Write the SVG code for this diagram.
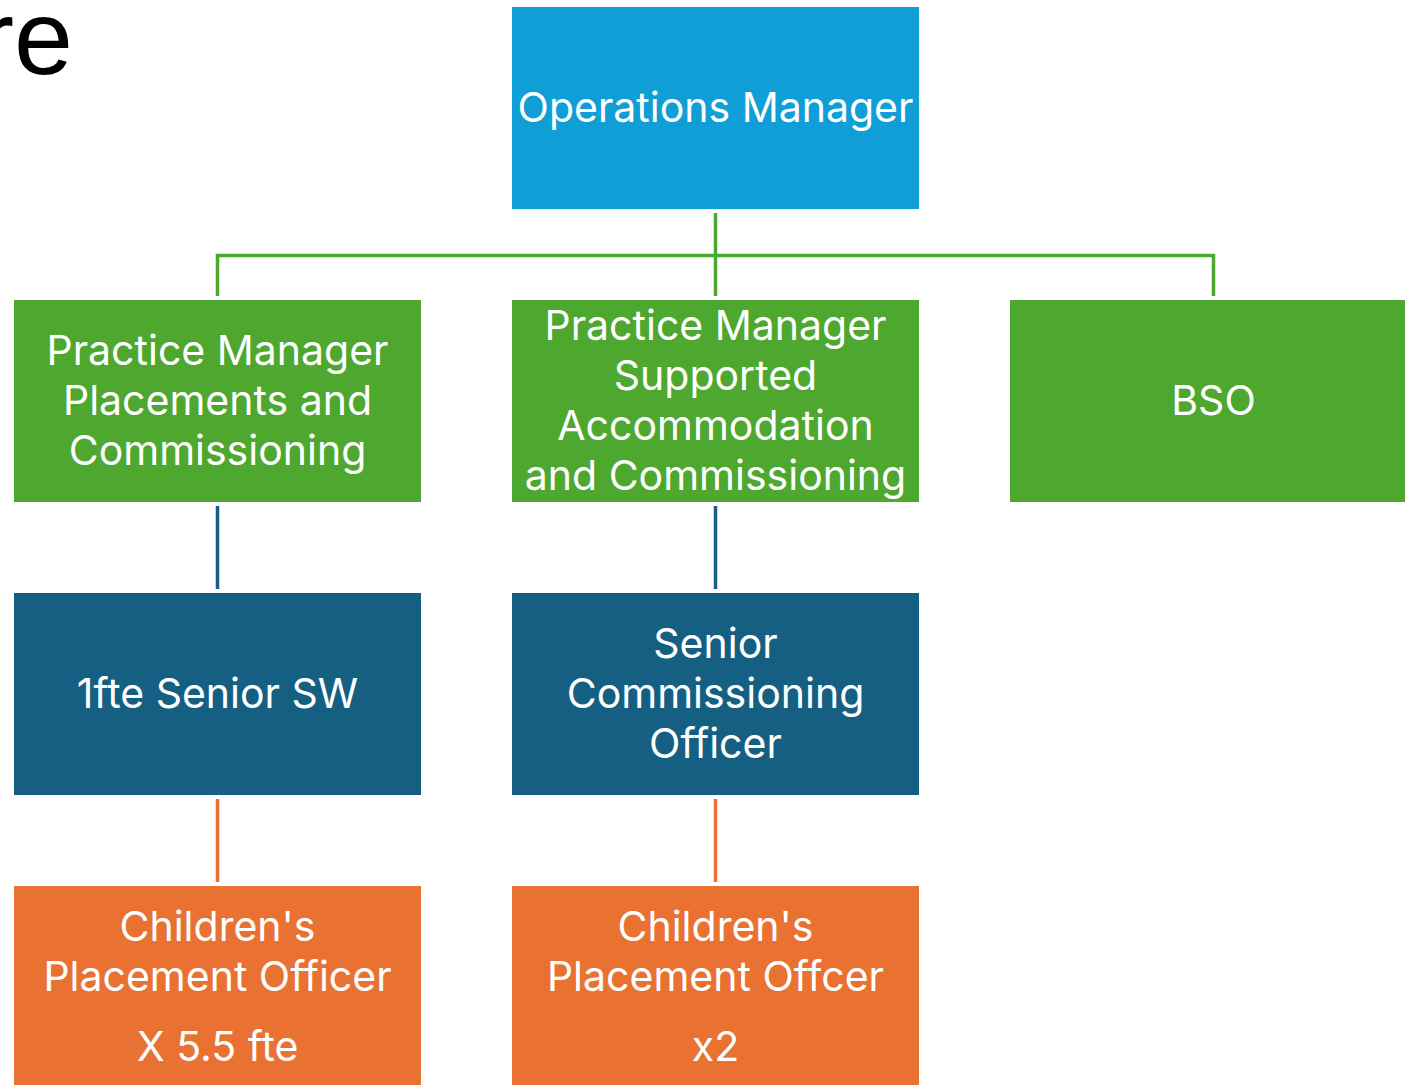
<svg xmlns="http://www.w3.org/2000/svg" width="1405" height="1085" viewBox="0 0 1405 1085">
<style>
.t{font-family:Inter,"Open Sans","Liberation Sans",sans-serif;font-size:41px;fill:#fff;text-anchor:middle}
.g{fill:#4EA72E}
.b{fill:#156082}
.o{fill:#E97132}
.cg{stroke:#4EA72E;stroke-width:3.5;fill:none}
.cb{stroke:#156082;stroke-width:3.5;fill:none}
.co{stroke:#E97132;stroke-width:3.5;fill:none}
</style>
<rect width="1405" height="1085" fill="#fff"/>
<text x="73" y="74" font-family="Liberation Sans, Arial, sans-serif" font-size="106" text-anchor="end" fill="#000">re</text>
<g id="connectors">
<path class="cg" d="M217.5 296V255.5H1213.5V296M715.5 213V296"/>
<path class="cb" d="M217.5 506V589M715.5 506V589"/>
<path class="co" d="M217.5 799V882M715.5 799V882"/>
</g>
<g id="ops"><rect x="512" y="7" width="407" height="202" fill="#0F9ED5"/><text class="t" x="715.5" y="122">Operations Manager</text></g>
<g id="pm1"><rect class="g" x="14" y="300" width="407" height="202"/><text class="t" x="217.5"><tspan x="217.5" y="365">Practice Manager</tspan><tspan x="217.5" y="415">Placements and</tspan><tspan x="217.5" y="465">Commissioning</tspan></text></g>
<g id="pm2"><rect class="g" x="512" y="300" width="407" height="202"/><text class="t"><tspan x="715.5" y="340">Practice Manager</tspan><tspan x="715.5" y="390">Supported</tspan><tspan x="715.5" y="440">Accommodation</tspan><tspan x="715.5" y="490">and Commissioning</tspan></text></g>
<g id="bso"><rect class="g" x="1010" y="300" width="395" height="202"/><text class="t" x="1213.5" y="415">BSO</text></g>
<g id="ssw"><rect class="b" x="14" y="593" width="407" height="202"/><text class="t" x="217.5" y="708">1fte Senior SW</text></g>
<g id="sco"><rect class="b" x="512" y="593" width="407" height="202"/><text class="t"><tspan x="715.5" y="658">Senior</tspan><tspan x="715.5" y="708">Commissioning</tspan><tspan x="715.5" y="758">Officer</tspan></text></g>
<g id="cpo1"><rect class="o" x="14" y="886" width="407" height="199"/><text class="t"><tspan x="217.5" y="941">Children's</tspan><tspan x="217.5" y="991">Placement Officer</tspan><tspan x="217.5" y="1061">X 5.5 fte</tspan></text></g>
<g id="cpo2"><rect class="o" x="512" y="886" width="407" height="199"/><text class="t"><tspan x="715.5" y="941">Children's</tspan><tspan x="715.5" y="991">Placement Offcer</tspan><tspan x="715.5" y="1061">x2</tspan></text></g>
</svg>
